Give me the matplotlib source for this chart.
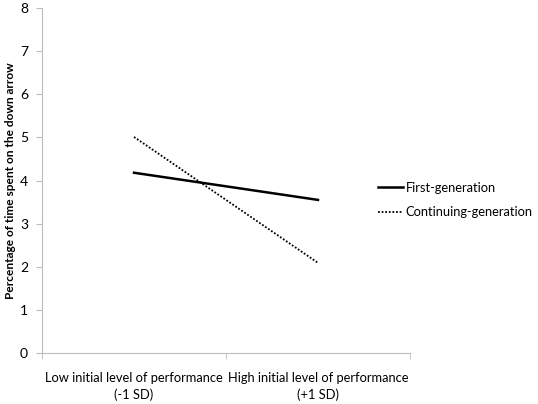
import matplotlib
matplotlib.use("Agg")
import matplotlib.pyplot as plt

categories = ["Low initial level of performance\n(-1 SD)", "High initial level of performance\n(+1 SD)"]
first_gen = [4.18, 3.55]
continuing_gen = [5.01, 2.09]
yticks = [0, 1, 2, 3, 4, 5, 6, 7, 8]

plt.rcParams['font.family'] = ['Lato', 'DejaVu Sans']

fig = plt.figure(figsize=(5.38, 4.04), dpi=100)
ax = fig.add_axes([42/538, 51/404, 368/538, 345/404])

x = list(range(len(categories)))
ax.plot(x, first_gen, color='black', lw=1.8, label='First-generation')
ax.plot(x, continuing_gen, color='black', lw=1.3, linestyle=(0, (1, 1)), label='Continuing-generation')

ax.set_xlim(-0.5, len(categories) - 0.5)
ax.set_ylim(0, 8)
ax.set_yticks(yticks)
ax.set_yticklabels([str(v) for v in yticks], fontsize=10)
ax.set_xticks(x)
ax.set_xticklabels(categories, fontsize=9.3, linespacing=1.4)
ax.tick_params(axis='x', which='major', length=0, pad=14)
ax.set_xticks([-0.5, 0.5, 1.5], minor=True)
ax.tick_params(axis='x', which='minor', length=4, color='#bbbbbb')
ax.tick_params(axis='y', length=4, color='#bbbbbb', pad=6)

for s in ['top', 'right']:
    ax.spines[s].set_visible(False)
for s in ['left', 'bottom']:
    ax.spines[s].set_color('#bbbbbb')

ax.set_ylabel('Percentage of time spent on the down arrow', fontsize=8.6, fontweight='bold', labelpad=3)

leg = fig.legend(loc='upper left', bbox_to_anchor=(378/538, (404-182)/404), frameon=False,
                 fontsize=9.3, handlelength=1.9, handletextpad=0.25, labelspacing=0.95,
                 borderaxespad=0.0, borderpad=0.0)

fig.savefig('out.png', dpi=100)
